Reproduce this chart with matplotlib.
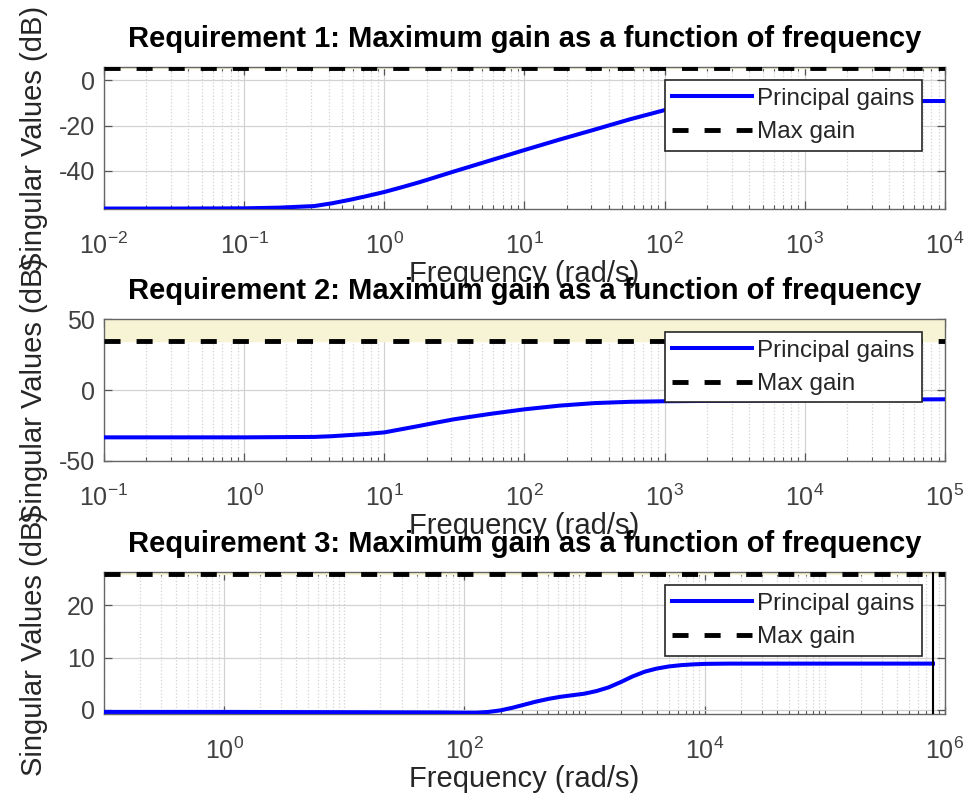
import numpy as np
import matplotlib
matplotlib.use('Agg')
import matplotlib.pyplot as plt
from matplotlib.ticker import LogLocator, NullFormatter, FixedLocator

plt.rcParams['font.family'] = ['Liberation Sans', 'DejaVu Sans']
plt.rcParams['mathtext.fontset'] = 'custom'
plt.rcParams['mathtext.rm'] = 'Liberation Sans'
plt.rcParams['mathtext.it'] = 'Liberation Sans:italic'
plt.rcParams['mathtext.bf'] = 'Liberation Sans:bold'
plt.rcParams['axes.unicode_minus'] = False

# requirement 1 (log10 of frequency, gain in dB)
logw1 = [-2, -1.5, -1, -0.75, -0.5, -0.375, -0.25, -0.125, 0, 0.125, 0.25, 0.375, 0.5, 0.75, 1,
         1.25, 1.5, 1.75, 2, 2.25, 2.5, 2.75, 3, 3.5, 4]
gain1 = [-56.6, -56.6, -56.5, -56.2, -55.5, -54.3, -52.8, -51.1, -49.3, -47.2, -45.0, -42.6, -40.2,
         -35.5, -30.8, -26.2, -21.8, -17.3, -13.2, -10.9, -9.8, -9.4, -9.3, -9.2, -9.2]
maxgain1 = 5.3
ylim1 = (-56.8, 5.6)
xticks1 = [1e-2, 1e-1, 1e0, 1e1, 1e2, 1e3, 1e4]
yticks1 = [-40, -20, 0]

# requirement 2
logw2 = [-1, 0, 0.5, 0.625, 0.75, 0.875, 1, 1.125, 1.25, 1.375, 1.5, 1.75, 2, 2.25, 2.5, 2.75, 3,
         3.5, 4, 4.5, 5]
gain2 = [-33.3, -33.3, -33.0, -32.5, -31.7, -30.9, -29.8, -27.5, -25.2, -22.8, -20.5, -16.8, -13.5,
         -10.9, -9.1, -8.2, -7.8, -7.4, -7.0, -6.7, -6.4]
maxgain2 = 35
ylim2 = (-50, 50)
xticks2 = [1e-1, 1e0, 1e1, 1e2, 1e3, 1e4, 1e5]
yticks2 = [-50, 0, 50]

# requirement 3
logw3 = [-1, 0, 1, 1.8, 2.0, 2.1, 2.2, 2.3, 2.4, 2.5, 2.6, 2.7, 2.8, 2.9, 3.0, 3.1, 3.2, 3.3, 3.4,
         3.5, 3.6, 3.7, 3.8, 3.9, 4.0, 4.2, 5, 5.9]
gain3 = [-0.4, -0.4, -0.45, -0.5, -0.55, -0.55, -0.4, -0.1, 0.4, 1.0, 1.6, 2.1, 2.5, 2.8, 3.1, 3.6,
         4.3, 5.3, 6.4, 7.3, 7.9, 8.3, 8.55, 8.7, 8.8, 8.85, 8.85, 8.85]
maxgain3 = 26
ylim3 = (-0.8, 26.3)
xticks3 = [1e0, 1e2, 1e4, 1e6]
yticks3 = [0, 10, 20]
wend3 = 10**5.9

panels = [
    (1, logw1, gain1, maxgain1, ylim1, (1e-2, 1e4), xticks1, yticks1, 0.7394),
    (2, logw2, gain2, maxgain2, ylim2, (1e-1, 1e5), xticks2, yticks2, 0.4252),
    (3, logw3, gain3, maxgain3, ylim3, (1e-1, 1e6), xticks3, yticks3, 0.1097),
]

fig = plt.figure(figsize=(9.71, 8.02), dpi=100)
axcol = '#262626'

for n, lw_, g, mg, yl, xl, xt, yt, bot in panels:
    ax = fig.add_axes([0.1071, bot, 0.8661, 0.1765])
    w = 10**np.array(lw_)
    ax.axhspan(mg, yl[1], color='#f6f4d5', zorder=1)
    ax.plot(w, g, color='#0000ff', lw=2.9, label='Principal gains', zorder=3)
    ax.plot(xl, [mg, mg], color='black', lw=3.5, ls=(0, (3.3, 3.3)), label='Max gain', zorder=4)
    if n == 3:
        ax.axvline(wend3, color='black', lw=1.5, zorder=3)
    ax.set_xscale('log')
    ax.set_xlim(xl)
    ax.set_ylim(yl)
    ax.xaxis.set_major_locator(FixedLocator(xt))
    ax.xaxis.set_minor_locator(LogLocator(base=10, subs=np.arange(1, 10), numticks=100))
    ax.xaxis.set_minor_formatter(NullFormatter())
    ax.set_yticks(yt)
    ax.grid(True, which='major', color='#d2d2d2', lw=0.9)
    ax.grid(True, which='minor', axis='x', color='#d2d2d2', lw=0.9, ls=':')
    ax.set_axisbelow(True)
    ax.tick_params(which='both', direction='in', top=True, right=True, colors='#555555',
                   labelcolor='#404040', labelsize=18)
    ax.tick_params(which='major', length=6, width=0.9)
    ax.tick_params(which='minor', length=3, width=0.8)
    ax.tick_params(axis='x', which='major', pad=17)
    ax.tick_params(axis='y', which='major', pad=6.5)
    for s in ax.spines.values():
        s.set_color('#666666')
        s.set_linewidth(1)
    ax.set_title('Requirement %d: Maximum gain as a function of frequency' % n,
                 fontsize=21, fontweight='bold', pad=14.5)
    ax.set_xlabel('Frequency (rad/s)', fontsize=21, color=axcol)
    ax.xaxis.set_label_coords(0.5, -0.36)
    ax.set_ylabel('Singular Values (dB)', fontsize=21, color=axcol)
    ax.yaxis.set_label_coords(-0.066, 0.5)
    leg = ax.legend(loc='upper right', bbox_to_anchor=(0.9727, 0.908), fontsize=17.5,
                    frameon=True, fancybox=False, framealpha=1, borderaxespad=0,
                    borderpad=0.3, labelspacing=0.47, handlelength=3.3, handletextpad=0.2)
    leg.get_frame().set_edgecolor(axcol)
    leg.get_frame().set_linewidth(1.2)
    for t in leg.get_texts():
        t.set_color(axcol)
    leg.set_zorder(10)

plt.savefig('out.png', dpi=100)
